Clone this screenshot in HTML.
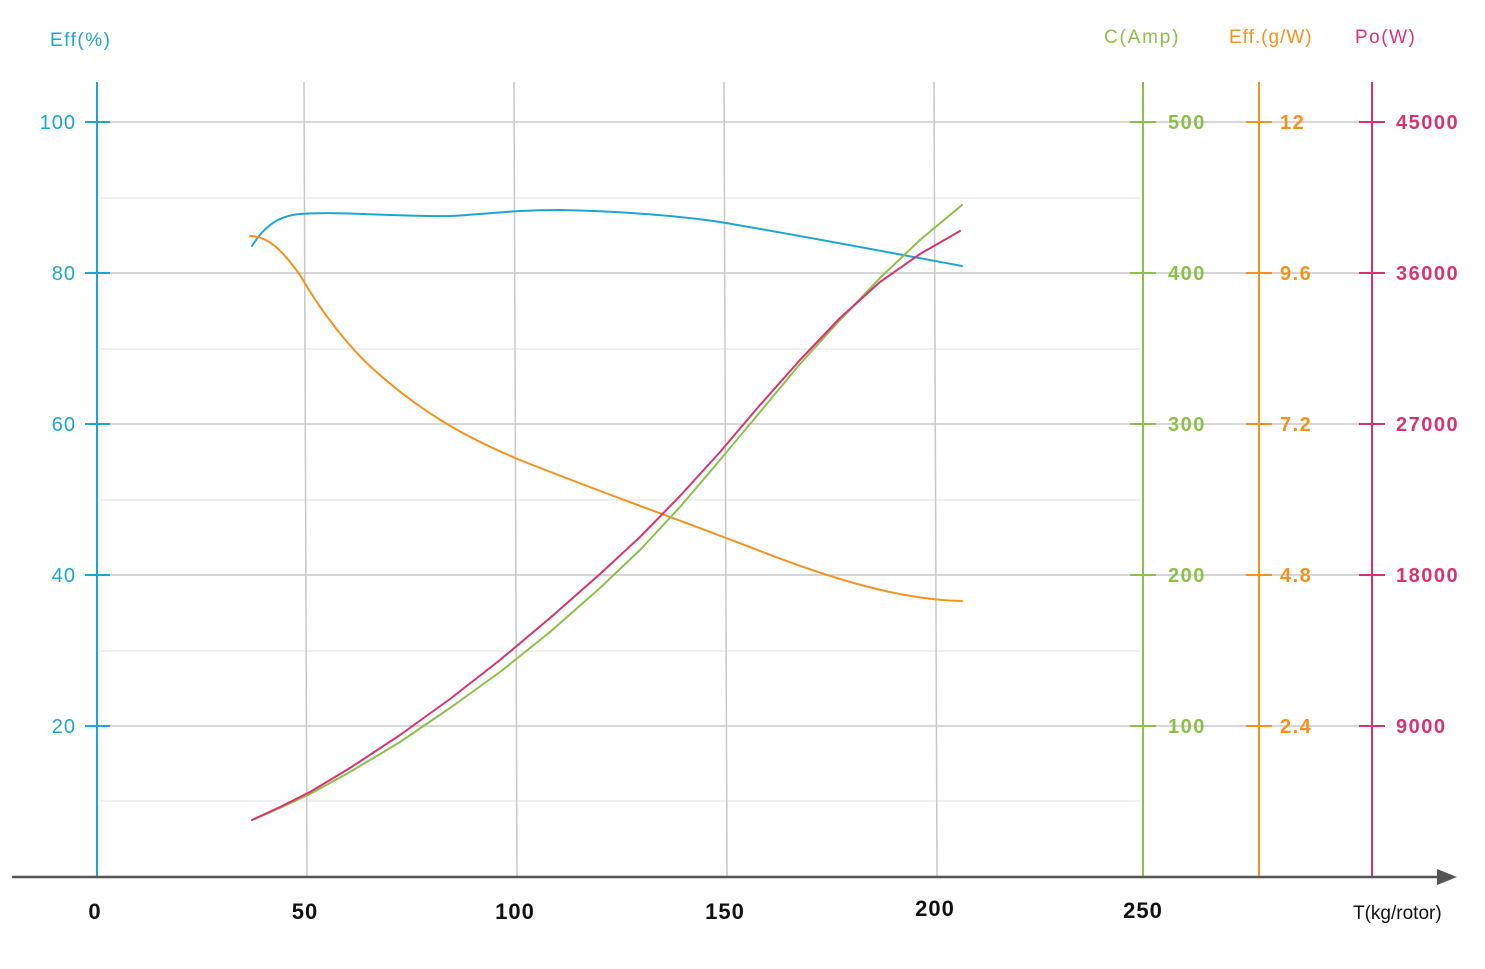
<!DOCTYPE html>
<html><head><meta charset="utf-8"><style>
html,body{margin:0;padding:0;background:#fff;}
svg{display:block;font-family:"Liberation Sans",sans-serif;}
</style></head><body>
<svg width="1485" height="969" viewBox="0 0 1485 969" xmlns="http://www.w3.org/2000/svg">
<rect width="1485" height="969" fill="#fff"/>
<g stroke="#ececec" stroke-width="1.5">
<line x1="100" y1="198" x2="1140" y2="198"/>
<line x1="100" y1="349" x2="1140" y2="349"/>
<line x1="100" y1="500" x2="1140" y2="500"/>
<line x1="100" y1="651" x2="1140" y2="651"/>
<line x1="100" y1="801" x2="1140" y2="801"/>
</g>
<g stroke="#c8c8c8" stroke-width="1.5">
<line x1="97" y1="122" x2="1372" y2="122"/>
<line x1="97" y1="273" x2="1372" y2="273"/>
<line x1="97" y1="424" x2="1372" y2="424"/>
<line x1="97" y1="575" x2="1372" y2="575"/>
<line x1="97" y1="726" x2="1372" y2="726"/>
<line x1="304" y1="82" x2="307" y2="876"/>
<line x1="514" y1="82" x2="517" y2="876"/>
<line x1="724" y1="82" x2="727" y2="876"/>
<line x1="934" y1="82" x2="937" y2="876"/>
</g>
<line x1="97" y1="82" x2="97" y2="876" stroke="#1ea5d3" stroke-width="2"/>
<line x1="1143" y1="82" x2="1143" y2="876" stroke="#8cc04a" stroke-width="2"/>
<line x1="1259" y1="82" x2="1259" y2="876" stroke="#f5921e" stroke-width="2"/>
<line x1="1372" y1="82" x2="1372" y2="876" stroke="#d9336f" stroke-width="2"/>
<g stroke-width="2">
<g stroke="#1ea5d3"><line x1="85" y1="122" x2="110" y2="122"/><line x1="85" y1="273" x2="110" y2="273"/><line x1="85" y1="424" x2="110" y2="424"/><line x1="85" y1="575" x2="110" y2="575"/><line x1="85" y1="726" x2="110" y2="726"/></g>
<g stroke="#8cc04a"><line x1="1130" y1="122" x2="1156" y2="122"/><line x1="1130" y1="273" x2="1156" y2="273"/><line x1="1130" y1="424" x2="1156" y2="424"/><line x1="1130" y1="575" x2="1156" y2="575"/><line x1="1130" y1="726" x2="1156" y2="726"/></g>
<g stroke="#f5921e"><line x1="1246" y1="122" x2="1272" y2="122"/><line x1="1246" y1="273" x2="1272" y2="273"/><line x1="1246" y1="424" x2="1272" y2="424"/><line x1="1246" y1="575" x2="1272" y2="575"/><line x1="1246" y1="726" x2="1272" y2="726"/></g>
<g stroke="#d9336f"><line x1="1359" y1="122" x2="1385" y2="122"/><line x1="1359" y1="273" x2="1385" y2="273"/><line x1="1359" y1="424" x2="1385" y2="424"/><line x1="1359" y1="575" x2="1385" y2="575"/><line x1="1359" y1="726" x2="1385" y2="726"/></g>
</g>
<line x1="12" y1="877" x2="1442" y2="877" stroke="#555" stroke-width="2.5"/>
<polygon points="1457,877 1437,869 1437,885" fill="#555"/>
<g font-size="20" fill="#1ea5d3" text-anchor="end" letter-spacing="1">
<text x="76" y="129">100</text><text x="76" y="280">80</text><text x="76" y="431">60</text><text x="76" y="582">40</text><text x="76" y="733">20</text>
</g>
<text x="50" y="46" font-size="19" fill="#1ea5d3" letter-spacing="1.5">Eff(%)</text>
<text x="1104" y="43" font-size="19" fill="#8cc04a" letter-spacing="1.8">C(Amp)</text>
<text x="1229" y="43" font-size="19" fill="#f5921e" letter-spacing="1">Eff.(g/W)</text>
<text x="1355" y="43" font-size="19" fill="#d9336f" letter-spacing="1.5">Po(W)</text>
<g font-size="20" fill="#8cc04a" font-weight="bold" letter-spacing="1.5"><text x="1168" y="129">500</text><text x="1168" y="280">400</text><text x="1168" y="431">300</text><text x="1168" y="582">200</text><text x="1168" y="733">100</text></g>
<g font-size="20" fill="#f5921e" font-weight="bold" letter-spacing="1.5"><text x="1280" y="129">12</text><text x="1280" y="280">9.6</text><text x="1280" y="431">7.2</text><text x="1280" y="582">4.8</text><text x="1280" y="733">2.4</text></g>
<g font-size="20" fill="#d9336f" font-weight="bold" letter-spacing="1.5"><text x="1396" y="129">45000</text><text x="1396" y="280">36000</text><text x="1396" y="431">27000</text><text x="1396" y="582">18000</text><text x="1396" y="733">9000</text></g>
<g font-size="22" fill="#111" font-weight="bold" text-anchor="middle" letter-spacing="1">
<text x="95" y="919">0</text><text x="305" y="919">50</text><text x="515" y="919">100</text><text x="725" y="919">150</text><text x="935" y="916">200</text><text x="1143" y="918">250</text>
</g>
<text x="1353" y="919" font-size="19" fill="#111">T(kg/rotor)</text>
<g fill="none" stroke-width="2" stroke-linecap="round" stroke-linejoin="round">
<path stroke="#1ea5d3" d="M252,246 C262,230 275,216 300,214 C340,211 400,217 450,216 C490,214 510,210 560,210 C620,211 680,216 720,222 C780,232 860,247 962,266"/>
<path stroke="#f5921e" d="M250,236 C268,236 282,250 300,275 C320,310 350,350 380,375 C420,410 460,435 520,460 C600,492 680,520 760,551 C830,578 900,600 962,601"/>
<polyline stroke="#8cc04a" points="252,820 280,808 310,794 350,772 400,742 450,708 500,672 550,632 600,588 640,550 680,507 720,460 760,412 800,364 840,320 880,278 920,240 962,205"/>
<polyline stroke="#d9336f" points="252,820 280,807 310,792 350,768 400,735 450,699 500,660 550,618 600,574 640,537 680,496 720,452 760,405 800,360 840,318 880,282 920,254 960,231"/>
</g>
</svg>
</body></html>
